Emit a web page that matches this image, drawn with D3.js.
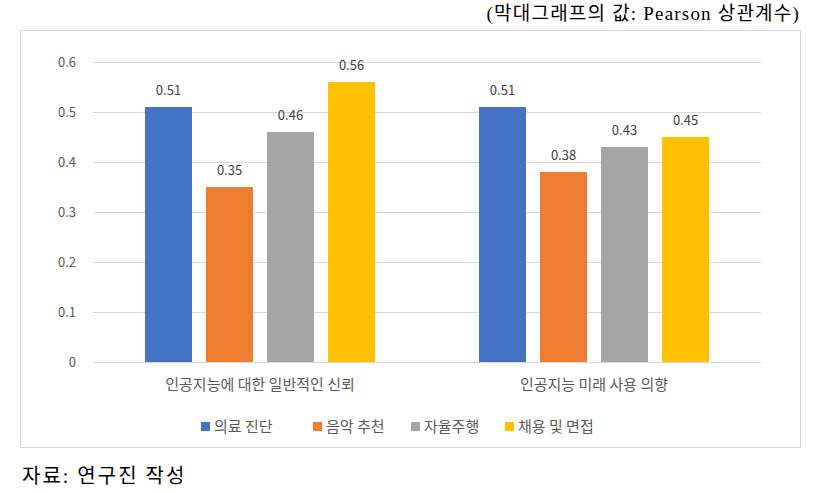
<!DOCTYPE html>
<html><head><meta charset="utf-8">
<script src="https://cdn.jsdelivr.net/npm/d3@7"></script>
<style>body{margin:0;background:#fff}</style>
</head><body>
<svg id="c" width="817" height="493"></svg>
<script>
const groups = ['인공지능에 대한 일반적인 신뢰', '인공지능 미래 사용 의향'];
const series = ['의료 진단', '음악 추천', '자율주행', '채용 및 면접'];
const colors = ['#4472c4', '#ed7d31', '#a5a5a5', '#ffc000'];
const values = [
  [0.51, 0.35, 0.46, 0.56],
  [0.51, 0.38, 0.43, 0.45]
];
const yTicks = [0, 0.1, 0.2, 0.3, 0.4, 0.5, 0.6];

const svg = d3.select('#c');
const sans = "'Noto Sans CJK KR', 'Noto Sans', sans-serif";
const serif = "'Liberation Serif', 'Noto Sans CJK KR', serif";

// chart frame
svg.append('rect').attr('x', 20.5).attr('y', 30.5).attr('width', 780).attr('height', 417)
  .attr('fill', '#fff').attr('stroke', '#d9d9d9');

svg.append('text').attr('x', 800).attr('y', 20).attr('text-anchor', 'end')
  .attr('font-family', serif).attr('font-size', 19).attr('letter-spacing', 1.2).attr('fill', '#000')
  .text('(막대그래프의 값: Pearson 상관계수)');
svg.append('text').attr('x', 22).attr('y', 483)
  .attr('font-family', serif).attr('font-size', 20).attr('letter-spacing', 2).attr('fill', '#000')
  .text('자료: 연구진 작성');

const y = d3.scaleLinear().domain([0, 0.6]).range([362, 62]);
const x0 = d3.scaleBand().domain(groups).range([93, 761]);
const x1 = d3.scaleBand().domain(series).range([-115, 115]).paddingInner(0.23);

svg.append('g').selectAll('line').data(yTicks).join('line')
  .attr('x1', 93).attr('x2', 761)
  .attr('y1', d => Math.round(y(d)) + 0.5).attr('y2', d => Math.round(y(d)) + 0.5)
  .attr('stroke', '#d9d9d9');

svg.append('g').selectAll('text').data(yTicks).join('text')
  .attr('x', 76).attr('y', d => y(d) + 5).attr('text-anchor', 'end')
  .attr('font-family', sans).attr('font-size', 13).attr('fill', '#595959')
  .text(d => d === 0 ? '0' : d.toFixed(1));

const g = svg.append('g').selectAll('g').data(groups).join('g')
  .attr('transform', d => `translate(${x0(d) + x0.bandwidth() / 2},0)`);

g.selectAll('rect').data((d, i) => values[i].map((v, j) => ({ v, s: series[j], c: colors[j] })))
  .join('rect')
  .attr('x', d => x1(d.s)).attr('width', x1.bandwidth())
  .attr('y', d => y(d.v)).attr('height', d => y(0) - y(d.v))
  .attr('fill', d => d.c);

g.selectAll('text.v').data((d, i) => values[i].map((v, j) => ({ v, s: series[j] })))
  .join('text').attr('class', 'v')
  .attr('x', d => x1(d.s) + x1.bandwidth() / 2).attr('y', d => y(d.v) - 12)
  .attr('text-anchor', 'middle').attr('font-family', sans).attr('font-size', 13)
  .attr('fill', '#404040').text(d => d.v.toFixed(2));

g.append('text').attr('y', 390).attr('text-anchor', 'middle')
  .attr('font-family', sans).attr('font-size', 15).attr('fill', '#595959')
  .text(d => d);

// legend
const legX = [201, 313, 411, 505];
const leg = svg.append('g').selectAll('g').data(series).join('g')
  .attr('transform', (d, i) => `translate(${legX[i]},427)`);
leg.append('rect').attr('x', 0).attr('y', -5).attr('width', 9).attr('height', 9)
  .attr('fill', (d, i) => colors[i]);
leg.append('text').attr('x', 13).attr('y', 5)
  .attr('font-family', sans).attr('font-size', 15).attr('fill', '#595959').text(d => d);
</script>
</body></html>
